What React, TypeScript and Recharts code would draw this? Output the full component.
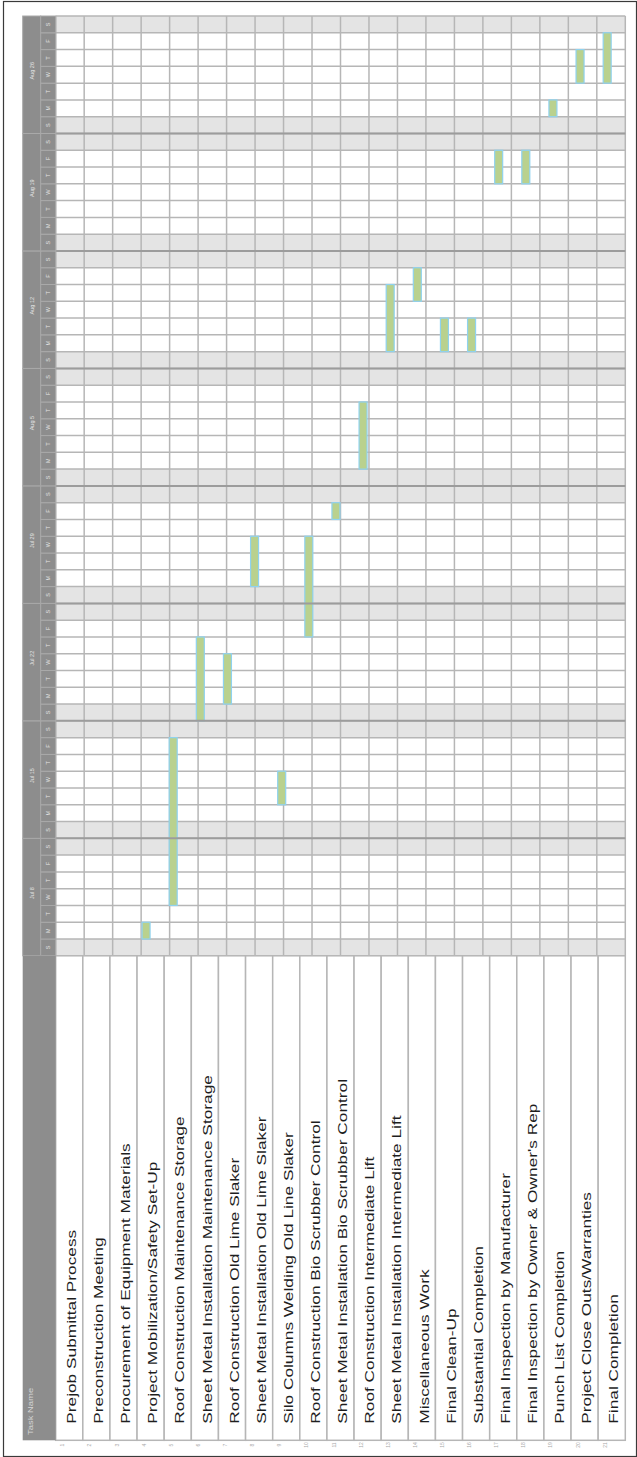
import { Bar, BarChart, CartesianGrid, ReferenceLine, XAxis, YAxis } from 'recharts';

// tasks, one column each (chart is turned 90°: time runs upward)
const taskNames = [
  'Prejob Submittal Process',
  'Preconstruction Meeting',
  'Procurement of Equipment Materials',
  'Project Mobilization/Safety Set-Up',
  'Roof Construction Maintenance Storage',
  'Sheet Metal Installation Maintenance Storage',
  'Roof Construction Old Lime Slaker',
  'Sheet Metal Installation Old Lime Slaker',
  'Silo Columns Welding Old Line Slaker',
  'Roof Construction Bio Scrubber Control',
  'Sheet Metal Installation Bio Scrubber Control',
  'Roof Construction Intermediate Lift',
  'Sheet Metal Installation Intermediate Lift',
  'Miscellaneous Work',
  'Final Clean-Up',
  'Substantial Completion',
  'Final Inspection by Manufacturer',
  "Final Inspection by Owner & Owner's Rep",
  'Punch List Completion',
  'Project Close Outs/Warranties',
  'Final Completion',
];

// day index: 0 = Sunday of the "Jul 8" week; end is exclusive
const startDay = [null, null, null, 1, 3, 14, 15, 22, 9, 19, 26, 29, 36, 39, 36, 36, 46, 46, 50, 52, 52];
const endDay = [null, null, null, 2, 13, 19, 18, 25, 11, 25, 27, 33, 40, 41, 38, 38, 48, 48, 51, 54, 55];

const weekLabels = ['Jul 8', 'Jul 15', 'Jul 22', 'Jul 29', 'Aug 5', 'Aug 12', 'Aug 19', 'Aug 26'];
const dayLetters = ['S', 'M', 'T', 'W', 'T', 'F', 'S'];

const FONT = '"Liberation Sans", Arial, sans-serif';
const W = 637;
const H = 1457;
const PLOT_TOP = 16;
const PLOT_LEFT = 55.7;
const PLOT_RIGHT = 625.3;
const AXIS_H = 501.2;
const NAME_TOP = H - AXIS_H;
const NAME_BOTTOM = 1440.3;
const DAYS = weekLabels.length * 7;
const DAY_H = (NAME_TOP - PLOT_TOP) / DAYS;
const COL_W = (PLOT_RIGHT - PLOT_LEFT) / taskNames.length;
const WEEK_X = 22.7;
const DAY_X = 40.7;

const HEAD_BG = '#8d8d8d';
const HEAD_LINE = '#a9a9a9';
const HEAD_TEXT = '#e4e4e4';
const GRID = '#b6b6b6';

const rows = taskNames.map((name, i) => ({
  name,
  span: startDay[i] == null ? null : [startDay[i], endDay[i]],
}));

const gridDays = Array.from({ length: DAYS + 1 }, (_, d) => d);
const gridCols = Array.from({ length: taskNames.length + 1 }, (_, c) => c);
const weekLines = weekLabels.slice(1).map((_, k) => (k + 1) * 7);

// one tick per day boundary; each draws the header cell of the day above it
function DayTick({ y, payload }: any) {
  const d = payload.value;
  if (d >= DAYS) return <g />;
  const cy = y - DAY_H / 2;
  const week = d % 7 === 0 ? weekLabels[d / 7] : null;
  return (
    <g>
      {week != null && (
        <g>
          <rect x={WEEK_X} y={y - DAY_H * 7} width={DAY_X - WEEK_X} height={DAY_H * 7} fill={HEAD_BG} stroke={HEAD_LINE} strokeWidth={1} />
          <text
            transform={`translate(${(WEEK_X + DAY_X) / 2},${y - DAY_H * 3.5 - 4}) rotate(-90)`}
            textAnchor="middle"
            dominantBaseline="central"
            fontSize={5.5}
            fontFamily={FONT}
            fill={HEAD_TEXT}
          >
            {week}
          </text>
        </g>
      )}
      <rect x={DAY_X} y={cy - DAY_H / 2} width={PLOT_LEFT - DAY_X} height={DAY_H} fill={HEAD_BG} stroke={HEAD_LINE} strokeWidth={1} />
      <text
        transform={`translate(${(DAY_X + PLOT_LEFT) / 2},${cy}) rotate(-90)`}
        textAnchor="middle"
        dominantBaseline="central"
        fontSize={5.5}
        fontFamily={FONT}
        fill={HEAD_TEXT}
      >
        {dayLetters[d % 7]}
      </text>
    </g>
  );
}

function TaskTick({ x, payload, index }: any) {
  return (
    <g>
      <rect x={x - COL_W / 2} y={NAME_TOP} width={COL_W} height={NAME_BOTTOM - NAME_TOP} fill="#fff" stroke={GRID} strokeWidth={1.5} />
      <text
        transform={`translate(${x + 6.7},${1423.7}) rotate(-90) scale(1.33,1)`}
        textAnchor="start"
        fontSize={13}
        fontFamily={FONT}
        fill="#1e1e1e"
      >
        {payload.value}
      </text>
      <text
        transform={`translate(${x - 7},${1445}) rotate(-90)`}
        textAnchor="middle"
        dominantBaseline="central"
        fontSize={5}
        fontFamily={FONT}
        fill="#a8a8a8"
      >
        {index + 1}
      </text>
    </g>
  );
}

function BarShape(p: any) {
  if (!p.height) return null;
  const y = Math.min(p.y, p.y + p.height);
  const h = Math.abs(p.height);
  return <rect x={p.x - 5} y={y} width={p.width} height={h} fill="#b9d18e" stroke="#8fd2ef" strokeWidth={1.2} />;
}

export default function App() {
  return (
    <div style={{ position: 'absolute', left: 0, top: 0, width: W, height: H, background: '#fff' }}>
      <BarChart
        width={W}
        height={H}
        data={rows}
        barSize={8}
        margin={{ top: PLOT_TOP, right: W - PLOT_RIGHT, bottom: 0, left: WEEK_X }}
      >
        <CartesianGrid
          xAxisId="cols"
          yAxisId="days"
          stroke={GRID}
          strokeWidth={1.5}
          horizontalFill={['#e4e4e4', '#ffffff', '#ffffff', '#ffffff', '#ffffff', '#ffffff', '#e4e4e4']}
          fillOpacity={1}
        />
        <XAxis
          dataKey="name"
          type="category"
          height={AXIS_H}
          interval={0}
          tickLine={false}
          axisLine={false}
          tick={(props: any) => <TaskTick {...props} />}
        />
        <XAxis xAxisId="cols" type="number" domain={[0, taskNames.length]} ticks={gridCols} interval={0} hide />
        <YAxis
          yAxisId="days"
          type="number"
          domain={[0, DAYS]}
          ticks={gridDays}
          interval={0}
          width={PLOT_LEFT - WEEK_X}
          tickLine={false}
          axisLine={false}
          tick={(props: any) => <DayTick {...props} />}
        />
        {weekLines.map((d) => (
          <ReferenceLine key={d} yAxisId="days" y={d} stroke="#9c9c9c" strokeWidth={2} />
        ))}
        <Bar dataKey="span" yAxisId="days" isAnimationActive={false} shape={BarShape} />
      </BarChart>
      <svg width={W} height={H} style={{ position: 'absolute', left: 0, top: 0, pointerEvents: 'none' }}>
        <rect x={WEEK_X} y={NAME_TOP} width={PLOT_LEFT - WEEK_X} height={NAME_BOTTOM - NAME_TOP} fill={HEAD_BG} />
        <text
          transform={`translate(33.3,1435) rotate(-90) scale(1.35,1)`}
          textAnchor="start"
          fontSize={7}
          fontFamily={FONT}
          fill="#d6d6d6"
        >
          Task Name
        </text>
        <rect x={3.5} y={1.5} width={633} height={1455} fill="none" stroke="#3a3a3a" strokeWidth={1.2} />
      </svg>
    </div>
  );
}
